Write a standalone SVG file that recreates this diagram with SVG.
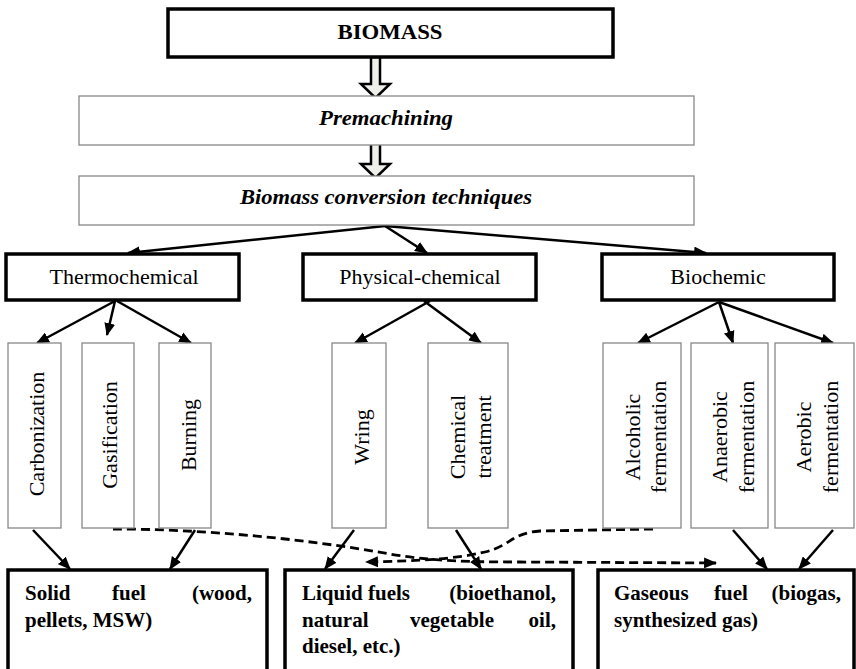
<svg xmlns="http://www.w3.org/2000/svg" width="856" height="669" viewBox="0 0 856 669">
<defs>
<style>
.thick{fill:#fff;stroke:#000;stroke-width:3.5}
.thin{fill:#fff;stroke:#888;stroke-width:1.3}
.t{font-family:"Liberation Serif","Times New Roman",serif;fill:#000}
.big{font-size:22px}
.bi{font-size:22px;font-weight:bold;font-style:italic}
.b{font-size:21px;font-weight:bold}
.conn{fill:none;stroke:#000;stroke-width:2.5}
.dash{fill:none;stroke:#000;stroke-width:2.8;stroke-dasharray:9 5}
.hollow{fill:#eeeeea;stroke:#000;stroke-width:2.5;stroke-linejoin:miter}
</style>
<marker id="ah" viewBox="0 0 12 10" refX="11" refY="5" markerWidth="13" markerHeight="11" orient="auto" markerUnits="userSpaceOnUse">
<path d="M0,0 L12,5 L0,10 z" fill="#000"/>
</marker>
</defs>
<rect width="856" height="669" fill="#fff"/>

<g id="connectors">
<path class="hollow" d="M371,57 L380,57 L380,84 L390,84 L375.5,98 L361,84 L371,84 Z"/>
<path class="hollow" d="M371,141 L380,141 L380,164 L390,164 L375.5,178 L361,164 L371,164 Z"/>
<line class="conn" x1="385" y1="226" x2="128" y2="253" marker-end="url(#ah)"/>
<line class="conn" x1="385" y1="226" x2="427" y2="253" marker-end="url(#ah)"/>
<line class="conn" x1="385" y1="226" x2="706" y2="253" marker-end="url(#ah)"/>
<line class="conn" x1="115" y1="301" x2="37" y2="343" marker-end="url(#ah)"/>
<line class="conn" x1="115" y1="301" x2="107" y2="335" marker-end="url(#ah)"/>
<line class="conn" x1="117" y1="301" x2="191" y2="343" marker-end="url(#ah)"/>
<line class="conn" x1="430" y1="301" x2="355" y2="343" marker-end="url(#ah)"/>
<line class="conn" x1="424" y1="301" x2="481" y2="343" marker-end="url(#ah)"/>
<line class="conn" x1="719" y1="302" x2="638" y2="343" marker-end="url(#ah)"/>
<line class="conn" x1="719" y1="302" x2="733" y2="343" marker-end="url(#ah)"/>
<line class="conn" x1="719" y1="302" x2="833" y2="343" marker-end="url(#ah)"/>
<line class="conn" x1="33" y1="530" x2="70" y2="569" marker-end="url(#ah)"/>
<line class="conn" x1="195" y1="530" x2="170" y2="569" marker-end="url(#ah)"/>
<line class="conn" x1="354" y1="530" x2="325" y2="569" marker-end="url(#ah)"/>
<line class="conn" x1="456" y1="530" x2="481" y2="569" marker-end="url(#ah)"/>
<line class="conn" x1="733" y1="530" x2="767" y2="569" marker-end="url(#ah)"/>
<line class="conn" x1="833" y1="530" x2="799" y2="569" marker-end="url(#ah)"/>
<path class="dash" d="M113,529 C200,529 300,538 390,554 C430,561 470,562 520,562 L716,563" marker-end="url(#ah)"/>
<path class="dash" d="M653,529 L540,531 C512,533 510,546 485,552 C455,559 420,561 366,562" marker-end="url(#ah)"/>
</g>

<g id="biomass">
<rect class="thick" x="168" y="9" width="445" height="48"/>
<text class="t" x="390" y="39" text-anchor="middle" font-size="22" font-weight="bold" textLength="105" lengthAdjust="spacingAndGlyphs">BIOMASS</text>
</g>
<g id="premachining">
<rect class="thin" x="79" y="96" width="615" height="49"/>
<text class="t bi" x="386" y="125" text-anchor="middle" textLength="134" lengthAdjust="spacingAndGlyphs">Premachining</text>
</g>
<g id="conversion">
<rect class="thin" x="79" y="176" width="615" height="49"/>
<text class="t bi" x="386" y="204" text-anchor="middle" textLength="292" lengthAdjust="spacingAndGlyphs">Biomass conversion techniques</text>
</g>

<g id="thermochemical">
<rect class="thick" x="6" y="254" width="233" height="46"/>
<text class="t big" x="124" y="284" text-anchor="middle">Thermochemical</text>
</g>
<g id="physical-chemical">
<rect class="thick" x="303" y="254" width="233" height="46"/>
<text class="t big" x="420" y="284" text-anchor="middle">Physical-chemical</text>
</g>
<g id="biochemic">
<rect class="thick" x="602" y="254" width="232" height="46"/>
<text class="t big" x="718" y="284" text-anchor="middle">Biochemic</text>
</g>

<g id="carbonization">
<rect class="thin" x="8" y="343" width="53" height="185"/>
<text class="t big" transform="translate(44,434) rotate(-90)" text-anchor="middle">Carbonization</text>
</g>
<g id="gasification">
<rect class="thin" x="82" y="343" width="52" height="185"/>
<text class="t big" transform="translate(117,435) rotate(-90)" text-anchor="middle">Gasification</text>
</g>
<g id="burning">
<rect class="thin" x="159" y="343" width="52" height="185"/>
<text class="t big" transform="translate(196,435) rotate(-90)" text-anchor="middle">Burning</text>
</g>
<g id="wring">
<rect class="thin" x="332" y="343" width="54" height="185"/>
<text class="t big" transform="translate(369,437) rotate(-90)" text-anchor="middle">Wring</text>
</g>
<g id="chemical-treatment">
<rect class="thin" x="428" y="343" width="80" height="185"/>
<text class="t big" transform="translate(465,437) rotate(-90)" text-anchor="middle">Chemical</text>
<text class="t big" transform="translate(491,437) rotate(-90)" text-anchor="middle">treatment</text>
</g>
<g id="alcoholic">
<rect class="thin" x="603" y="343" width="78" height="185"/>
<text class="t big" transform="translate(640,437) rotate(-90)" text-anchor="middle">Alcoholic</text>
<text class="t big" transform="translate(666,437) rotate(-90)" text-anchor="middle">fermentation</text>
</g>
<g id="anaerobic">
<rect class="thin" x="691" y="343" width="77" height="185"/>
<text class="t big" transform="translate(727,437) rotate(-90)" text-anchor="middle">Anaerobic</text>
<text class="t big" transform="translate(754,437) rotate(-90)" text-anchor="middle">fermentation</text>
</g>
<g id="aerobic">
<rect class="thin" x="775" y="343" width="79" height="185"/>
<text class="t big" transform="translate(811,437) rotate(-90)" text-anchor="middle">Aerobic</text>
<text class="t big" transform="translate(838,437) rotate(-90)" text-anchor="middle">fermentation</text>
</g>

<g id="solid-fuel">
<rect class="thick" x="8" y="570" width="259" height="110"/>
<text class="t b" x="25" y="600">Solid</text>
<text class="t b" x="129" y="600" text-anchor="middle">fuel</text>
<text class="t b" x="252" y="600" text-anchor="end">(wood,</text>
<text class="t b" x="25" y="627">pellets, MSW)</text>
</g>
<g id="liquid-fuels">
<rect class="thick" x="285" y="570" width="288" height="110"/>
<text class="t b" x="302" y="600">Liquid</text>
<text class="t b" x="368" y="600">fuels</text>
<text class="t b" x="556" y="600" text-anchor="end">(bioethanol,</text>
<text class="t b" x="302" y="627">natural</text>
<text class="t b" x="452" y="627" text-anchor="middle">vegetable</text>
<text class="t b" x="556" y="627" text-anchor="end">oil,</text>
<text class="t b" x="302" y="653">diesel, etc.)</text>
</g>
<g id="gaseous-fuel">
<rect class="thick" x="598" y="570" width="256" height="110"/>
<text class="t b" x="614" y="600">Gaseous</text>
<text class="t b" x="731" y="600" text-anchor="middle">fuel</text>
<text class="t b" x="841" y="600" text-anchor="end">(biogas,</text>
<text class="t b" x="614" y="627">synthesized gas)</text>
</g>
</svg>
